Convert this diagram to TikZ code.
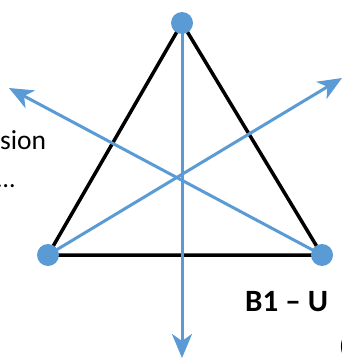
\documentclass[tikz,border=0pt]{standalone}
\usepackage{fontspec}
\setmainfont{Carlito}
\usetikzlibrary{arrows.meta,backgrounds}
\definecolor{axisblue}{HTML}{5B9BD5}

\begin{document}
\begin{tikzpicture}[x=1pt, y=-1pt,
    vertex/.style={circle, fill=axisblue, inner sep=0pt, minimum size=22pt},
    side/.style={line width=3.5pt, black},
    axis/.style={line width=3pt, axisblue, -{Stealth[length=24pt, width=20pt, inset=7pt]}},
    every node/.style={inner sep=0pt}
]
\useasboundingbox (0,0) rectangle (342,361);
\clip (0,0) rectangle (342,361);

\node[vertex] (top) at (182,23) {};
\node[vertex] (left) at (48,255) {};
\node[vertex] (right) at (322,255) {};

\coordinate (downtip) at (182,358);
\coordinate (uplefttip) at (9,88);
\coordinate (uprighttip) at (342,78);

\begin{scope}[on background layer]
\draw[side] (top.center) -- (left.center) -- (right.center) -- cycle;
\draw[axis] (top.center) -- (downtip);
\draw[axis] (right.center) -- (uplefttip);
\draw[axis] (left.center) -- (uprighttip);
\end{scope}

\node[anchor=base west, font=\fontsize{27.5}{32}\selectfont] (sion) at (0,149) {sion};
\node[anchor=base east, font=\fontsize{26}{30}\selectfont] (dots) at (15,187) {…};
\node[anchor=base west, font=\bfseries\fontsize{31}{35}\selectfont] (label) at (245,311) {B1 – U};
\node[anchor=base west, font=\fontsize{26}{30}\selectfont] (paren) at (339,354) {(};
\end{tikzpicture}
\end{document}
